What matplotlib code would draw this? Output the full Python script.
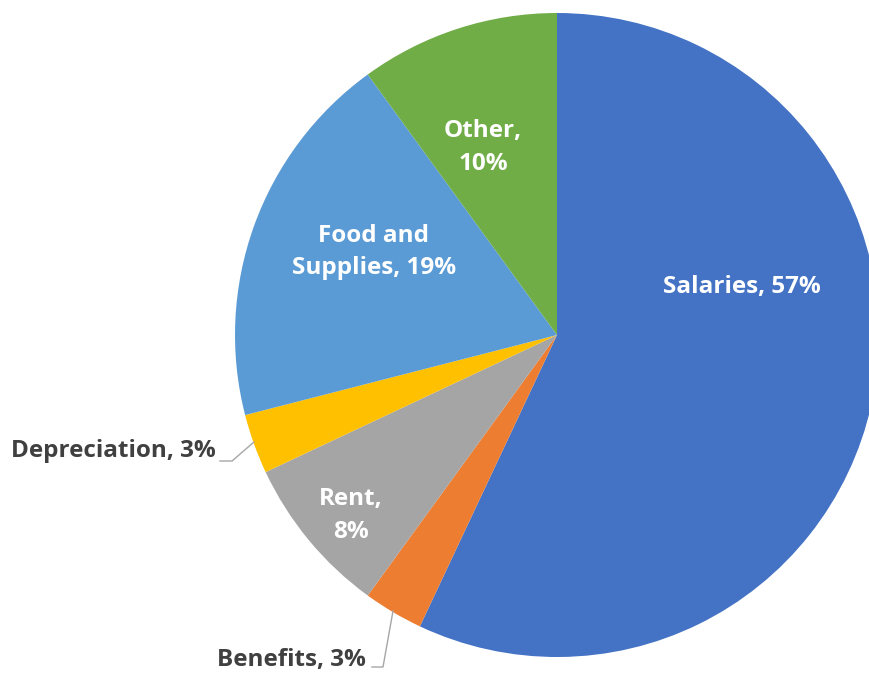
import matplotlib.pyplot as plt

# 비용 구성 (시계 방향, 12시부터)
labels = ['Salaries', 'Benefits', 'Rent', 'Depreciation', 'Food and\nSupplies', 'Other']
values = [57, 3, 8, 3, 19, 10]
colors = ['#4472C4', '#ED7D31', '#A5A5A5', '#FFC000', '#5B9BD5', '#70AD47']

plt.rcParams['font.family'] = ['Open Sans', 'DejaVu Sans']

fig = plt.figure(figsize=(8.69, 6.75), dpi=100)
ax = fig.add_axes([0, 0, 1, 1])

wedges, _ = ax.pie(values, colors=colors, startangle=90, counterclock=False,
                   center=(557, 340), radius=322, frame=True)
ax.set_xlim(0, 869)
ax.set_ylim(0, 675)
ax.set_aspect('equal')
ax.axis('off')

txt = [f'{l}, {v}%' for l, v in zip(labels, values)]
txt[2] = 'Rent,\n8%'
txt[5] = 'Other,\n10%'

fs = 17.5
# 조각 안쪽 라벨
inside = {0: (742, 388), 2: (351, 160), 4: (374, 423), 5: (483, 527)}
for i, (x, y) in inside.items():
    ax.text(x, y, txt[i], color='white', fontsize=fs, fontweight='bold',
            ha='center', va='center', linespacing=1.5)

# 바깥 라벨 + 지시선
ax.text(216, 224, txt[3], color='#404040', fontsize=fs, fontweight='bold',
        ha='right', va='center')
ax.plot([220, 232, 254], [214, 214, 233], color='#A6A6A6', lw=1)
ax.text(366, 15, txt[1], color='#404040', fontsize=fs, fontweight='bold',
        ha='right', va='center')
ax.plot([372, 383, 393], [8, 8, 64], color='#A6A6A6', lw=1)

plt.savefig('out.png', dpi=100)
